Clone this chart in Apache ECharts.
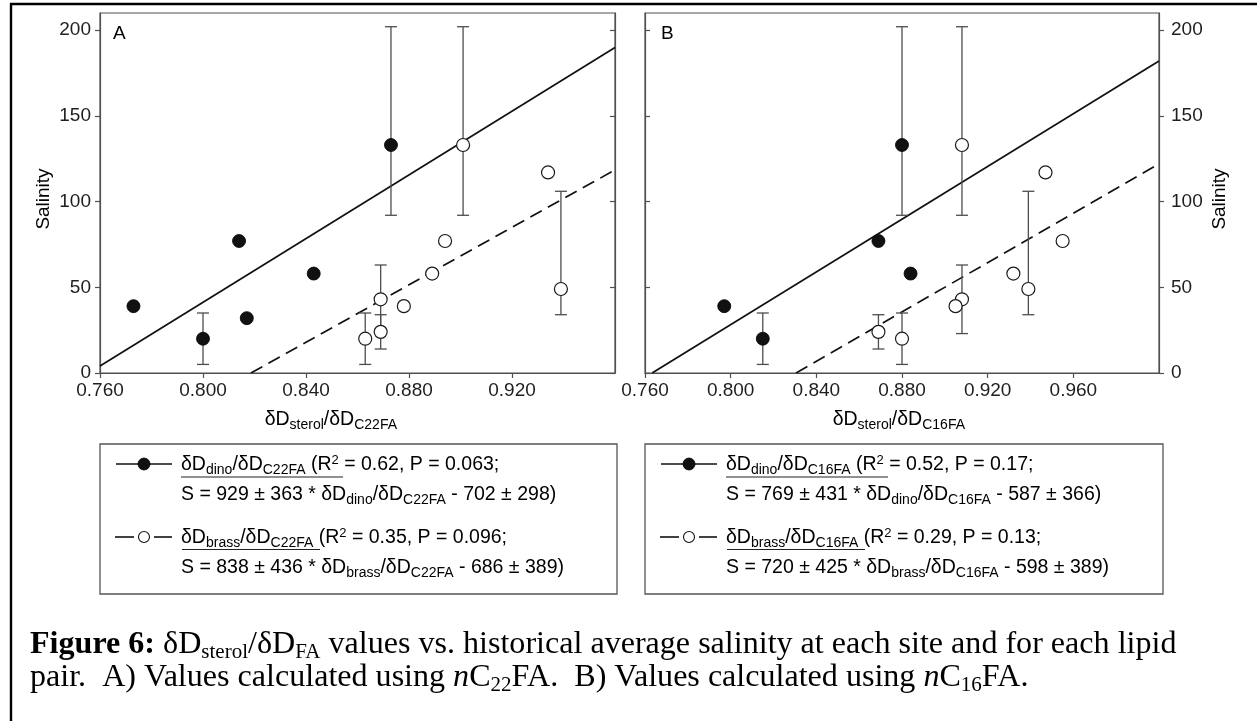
<!DOCTYPE html>
<html>
<head>
<meta charset="utf-8">
<script src="https://cdn.jsdelivr.net/npm/echarts@6/dist/echarts.min.js"></script>
<style>
  html, body { margin: 0; padding: 0; background: #fff; }
  #chart { width: 1257px; height: 721px; }
</style>
</head>
<body>
<div id="chart"></div>
<script>
// ---------- Panel A: δDsterol/δDC22FA ----------
const aDinoX  = [0.773, 0.800, 0.814, 0.817, 0.843, 0.873];
const aDinoS  = [39, 20, 77, 32, 58, 133];
const aDinoLo = [null, 5, null, null, null, 92];
const aDinoHi = [null, 35, null, null, null, 202];

const aBrassX  = [0.901, 0.934, 0.894, 0.889, 0.869, 0.878, 0.863, 0.869, 0.939];
const aBrassS  = [133, 117, 77, 58, 43, 39, 20, 24, 49];
const aBrassLo = [92, null, null, null, 23, null, 5, 14, 34];
const aBrassHi = [202, null, null, null, 63, null, 35, 34, 106];

// regression: [slope, slope SE, intercept, intercept SE], stats: [R2, P]
const aDinoFit   = [929, 363, -702, 298];
const aDinoStats = [0.62, 0.063];
const aBrassFit   = [838, 436, -686, 389];
const aBrassStats = [0.35, 0.096];

// ---------- Panel B: δDsterol/δDC16FA ----------
const bDinoX  = [0.797, 0.815, 0.880, 0.869, 0.884];
const bDinoS  = [39, 20, 133, 77, 58];
const bDinoLo = [null, 5, 92, null, null];
const bDinoHi = [null, 35, 202, null, null];

const bBrassX  = [0.869, 0.880, 0.908, 0.947, 0.955, 0.932, 0.939, 0.908, 0.905];
const bBrassS  = [24, 20, 133, 117, 77, 58, 49, 43, 39];
const bBrassLo = [14, 5, 92, null, null, null, 34, 23, null];
const bBrassHi = [34, 35, 202, null, null, null, 106, 63, null];

const bDinoFit   = [769, 431, -587, 366];
const bDinoStats = [0.52, 0.17];
const bBrassFit   = [720, 425, -598, 389];
const bBrassStats = [0.29, 0.13];

// axis ranges and ticks
const xRangeA = [0.76, 0.96];
const xRangeB = [0.76, 1.00];
const xStep = 0.04;
const yRange = [0, 210];
const yTicks = [0, 50, 100, 150, 200];

// ---------------------------------------------------------------
const FONT = 'Liberation Sans, Arial, sans-serif';
const SERIF = 'Liberation Serif, Times New Roman, serif';
const AXIS_COLOR = '#505050';
const TEXT_COLOR = '#1e1e1e';

const pairs = (xs, ys) => xs.map((x, i) => [x, ys[i]]);

// fitted line across the visible part of the axis (S >= 0)
function fitLine(fit, range) {
  const m = fit[0], b = fit[2];
  const x0 = Math.max(range[0], -b / m);
  const x1 = range[1];
  return [[x0, m * x0 + b], [x1, m * x1 + b]];
}

function errorBars(xs, lo, hi, xi, yi) {
  const data = [];
  xs.forEach((x, i) => { if (lo[i] != null) data.push([x, lo[i], hi[i]]); });
  return {
    type: 'custom', xAxisIndex: xi, yAxisIndex: yi, data, z: 2, silent: true,
    encode: { x: 0, y: [1, 2] },
    renderItem(params, api) {
      const x = api.value(0);
      const p1 = api.coord([x, api.value(1)]);
      const p2 = api.coord([x, api.value(2)]);
      const hw = 6;
      const st = { stroke: '#4d4d4d', lineWidth: 1.3 };
      return {
        type: 'group', children: [
          { type: 'line', shape: { x1: p1[0], y1: p1[1], x2: p2[0], y2: p2[1] }, style: st },
          { type: 'line', shape: { x1: p1[0] - hw, y1: p1[1], x2: p1[0] + hw, y2: p1[1] }, style: st },
          { type: 'line', shape: { x1: p2[0] - hw, y1: p2[1], x2: p2[0] + hw, y2: p2[1] }, style: st }
        ]
      };
    }
  };
}

function lineSeries(fit, range, dashed, xi, yi) {
  return {
    type: 'line', xAxisIndex: xi, yAxisIndex: yi, data: fitLine(fit, range),
    symbol: 'none', silent: true, z: 1,
    lineStyle: { color: '#111', width: 1.7, type: dashed ? [13, 7] : 'solid' }
  };
}

function pointSeries(xs, ys, filled, xi, yi) {
  return {
    type: 'scatter', xAxisIndex: xi, yAxisIndex: yi, data: pairs(xs, ys),
    symbol: 'circle', symbolSize: 13, z: 3, silent: true,
    itemStyle: filled
      ? { color: '#111', borderColor: '#000', borderWidth: 0.8, opacity: 1 }
      : { color: '#fff', borderColor: '#1a1a1a', borderWidth: 1.2, opacity: 1 }
  };
}

function xAxisOf(gi, range) {
  return {
    type: 'value', gridIndex: gi, min: range[0], max: range[1], interval: xStep,
    axisLine: { show: true, onZero: false, lineStyle: { color: AXIS_COLOR, width: 1.2 } },
    axisTick: { show: true, length: 5, lineStyle: { color: AXIS_COLOR, width: 1.2 } },
    axisLabel: { show: true, showMaxLabel: false, formatter: v => v.toFixed(3),
                 fontFamily: FONT, fontSize: 19, color: TEXT_COLOR, margin: 8 },
    splitLine: { show: false }
  };
}

function yAxisOf(gi, pos, labelled) {
  return {
    type: 'value', gridIndex: gi, position: pos, min: yRange[0], max: yRange[1],
    interval: 50,
    axisLine: { show: true, onZero: false, lineStyle: { color: AXIS_COLOR, width: 1.2 } },
    axisTick: { show: true, inside: !labelled, length: 5, customValues: yTicks,
                lineStyle: { color: AXIS_COLOR, width: 1.2 } },
    axisLabel: { show: labelled, customValues: yTicks,
                 formatter: v => (v > 200 ? '' : String(v)),
                 fontFamily: FONT, fontSize: 19, color: TEXT_COLOR,
                 margin: pos === 'left' ? 9 : 12 },
    splitLine: { show: false }
  };
}

// ---------- text helpers ----------
const legendRich = {
  m: { fontFamily: FONT, fontSize: 19.5, color: TEXT_COLOR },
  s: { fontFamily: FONT, fontSize: 14, color: TEXT_COLOR, padding: [11, 0, 0, 0] },
  p: { fontFamily: FONT, fontSize: 13, color: TEXT_COLOR, padding: [0, 0, 10, 0] }
};

function statLine(kind, fa, stats) {
  return `{m|δD}{s|${kind}}{m|/δD}{s|${fa}}{m| (R}{p|2}{m| = ${stats[0]}, P = ${stats[1]};}`;
}
function eqLine(kind, fa, fit) {
  return `{m|S = ${fit[0]} ± ${fit[1]} * δD}{s|${kind}}{m|/δD}{s|${fa}}{m| - ${-fit[2]} ± ${fit[3]})}`;
}

function richText(x, y, text, rich, align, rotation) {
  return {
    type: 'text', x, y, rotation: rotation || 0, silent: true,
    style: { text, rich, align: align || 'left', verticalAlign: 'middle' }
  };
}

function legendBlock(left, right, fa, dinoFit, dinoStats, brassFit, brassStats, ulA, ulB) {
  const els = [];
  const lineSt = { stroke: '#111', lineWidth: 1.6 };
  els.push({ type: 'rect', shape: { x: left, y: 444, width: right - left, height: 150 },
             style: { fill: '#fff', stroke: '#555', lineWidth: 1.3 }, silent: true });
  const sx = left + 44;       // symbol centre
  const tx = left + 81;       // text start
  // solid line with filled dot
  els.push({ type: 'line', shape: { x1: sx - 28, y1: 464, x2: sx + 28, y2: 464 }, style: lineSt });
  els.push({ type: 'circle', shape: { cx: sx, cy: 464, r: 6 }, style: { fill: '#111', stroke: '#000', lineWidth: 0.8 } });
  // dashed line with open dot
  els.push({ type: 'line', shape: { x1: sx - 29, y1: 537, x2: sx - 10, y2: 537 }, style: lineSt });
  els.push({ type: 'line', shape: { x1: sx + 10, y1: 537, x2: sx + 28, y2: 537 }, style: lineSt });
  els.push({ type: 'circle', shape: { cx: sx, cy: 537, r: 5.5 }, style: { fill: '#fff', stroke: '#111', lineWidth: 1.1 } });

  els.push(richText(tx, 465, statLine('dino', fa, dinoStats), legendRich));
  els.push(richText(tx, 495, eqLine('dino', fa, dinoFit), legendRich));
  els.push(richText(tx, 538, statLine('brass', fa, brassStats), legendRich));
  els.push(richText(tx, 568, eqLine('brass', fa, brassFit), legendRich));
  // underlines below the series names
  els.push({ type: 'line', shape: { x1: tx, y1: 477, x2: tx + ulA, y2: 477 }, style: { stroke: '#222', lineWidth: 1.2 } });
  els.push({ type: 'line', shape: { x1: tx + 1, y1: 549.5, x2: tx + ulB, y2: 549.5 }, style: { stroke: '#222', lineWidth: 1.2 } });
  return els;
}

const axisTitleRich = {
  m: { fontFamily: FONT, fontSize: 19.5, color: TEXT_COLOR },
  s: { fontFamily: FONT, fontSize: 14, color: TEXT_COLOR, padding: [11, 0, 0, 0] }
};
const plainRich = { m: { fontFamily: FONT, fontSize: 19, color: TEXT_COLOR } };

const capRich = {
  b: { fontFamily: SERIF, fontSize: 32.1, fontWeight: 'bold', color: '#000' },
  r: { fontFamily: SERIF, fontSize: 32.1, color: '#000' },
  i: { fontFamily: SERIF, fontSize: 32.1, fontStyle: 'italic', color: '#000' },
  s: { fontFamily: SERIF, fontSize: 21, color: '#000', padding: [15, 0, 0, 0] }
};

const graphics = [
  // page frame
  { type: 'line', shape: { x1: 10, y1: 4, x2: 1257, y2: 4 }, style: { stroke: '#000', lineWidth: 2.4 }, silent: true },
  { type: 'line', shape: { x1: 11, y1: 3, x2: 11, y2: 721 }, style: { stroke: '#000', lineWidth: 2.4 }, silent: true },
  // panel letters
  richText(113, 34, '{m|A}', plainRich),
  richText(661, 34, '{m|B}', plainRich),
  // y titles
  richText(44, 199, '{m|Salinity}', plainRich, 'center', Math.PI / 2),
  richText(1220, 199, '{m|Salinity}', plainRich, 'center', Math.PI / 2),
  // x titles
  richText(397, 420, '{m|δD}{s|sterol}{m|/δD}{s|C22FA}', axisTitleRich, 'right'),
  richText(965, 420, '{m|δD}{s|sterol}{m|/δD}{s|C16FA}', axisTitleRich, 'right'),
  ...legendBlock(100, 617, 'C22FA', aDinoFit, aDinoStats, aBrassFit, aBrassStats, 162, 139),
  ...legendBlock(645, 1163, 'C16FA', bDinoFit, bDinoStats, bBrassFit, bBrassStats, 162, 139),
  // caption
  richText(30, 645, '{b|Figure 6:}{r| δD}{s|sterol}{r|/δD}{s|FA}{r| values vs. historical average salinity at each site and for each lipid}', capRich),
  richText(30, 678, '{r|pair.  A) Values calculated using }{i|n}{r|C}{s|22}{r|FA.  B) Values calculated using }{i|n}{r|C}{s|16}{r|FA.}', capRich)
];

const chart = echarts.init(document.getElementById('chart'), null, { renderer: 'canvas' });
chart.setOption({
  animation: false,
  backgroundColor: '#fff',
  grid: [
    { left: 100, top: 13, width: 515, height: 360, show: true, borderColor: AXIS_COLOR, borderWidth: 1.2, backgroundColor: 'transparent' },
    { left: 645, top: 13, width: 514, height: 360, show: true, borderColor: AXIS_COLOR, borderWidth: 1.2, backgroundColor: 'transparent' }
  ],
  xAxis: [xAxisOf(0, xRangeA), xAxisOf(1, xRangeB)],
  yAxis: [
    yAxisOf(0, 'left', true),
    yAxisOf(0, 'right', false),
    yAxisOf(1, 'left', false),
    yAxisOf(1, 'right', true)
  ],
  series: [
    lineSeries(aDinoFit, xRangeA, false, 0, 0),
    lineSeries(aBrassFit, xRangeA, true, 0, 0),
    errorBars(aDinoX, aDinoLo, aDinoHi, 0, 0),
    errorBars(aBrassX, aBrassLo, aBrassHi, 0, 0),
    pointSeries(aDinoX, aDinoS, true, 0, 0),
    pointSeries(aBrassX, aBrassS, false, 0, 0),

    lineSeries(bDinoFit, xRangeB, false, 1, 3),
    lineSeries(bBrassFit, xRangeB, true, 1, 3),
    errorBars(bDinoX, bDinoLo, bDinoHi, 1, 3),
    errorBars(bBrassX, bBrassLo, bBrassHi, 1, 3),
    pointSeries(bDinoX, bDinoS, true, 1, 3),
    pointSeries(bBrassX, bBrassS, false, 1, 3)
  ],
  graphic: { elements: graphics }
});
</script>
</body>
</html>
